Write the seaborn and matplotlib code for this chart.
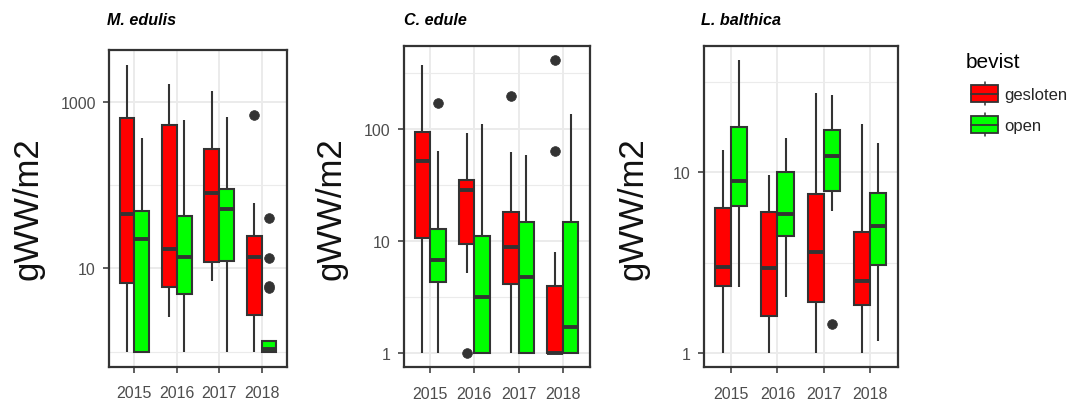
import matplotlib
matplotlib.use("Agg")
import matplotlib.pyplot as plt
import pandas as pd
import seaborn as sns
from matplotlib.patches import Rectangle, Patch
from matplotlib.lines import Line2D
from matplotlib.legend_handler import HandlerBase
from matplotlib.ticker import FixedLocator, FixedFormatter, NullFormatter

# ---------------------------------------------------------------- data
years = ["2015", "2016", "2017", "2018"]
states = ["gesloten", "open"]
state_colors = ["#FF0000", "#00FF00"]
species = ["M. edulis", "C. edule", "L. balthica"]

# box summaries in gWW/m2, ordered
# 2015 gesloten, 2015 open, 2016 gesloten, 2016 open, ..., 2018 open
medulis_low = [1, 1, 2.63, 1, 7.05, 1, 1, 1]
medulis_q1 = [6.7, 1, 5.9, 4.9, 12, 12.4, 2.75, 1]
medulis_med = [44.5, 22.3, 16.9, 13.6, 81, 51, 13.6, 1.07]
medulis_q3 = [643, 49, 520, 42.5, 268, 88.7, 24.5, 1.33]
medulis_high = [2750, 363, 1630, 603, 1355, 649, 61.4, 1.33]
medulis_out = [[], [], [], [], [], [], [700], [5.8, 6.1, 13.2, 39.8]]

cedule_low = [1, 1, 5.2, 1, 1, 1, 1, 1]
cedule_q1 = [10.6, 4.3, 9.5, 1, 4.1, 1, 1, 1]
cedule_med = [52, 6.7, 28.7, 3.18, 8.8, 4.8, 1, 1.69]
cedule_q3 = [94.7, 12.8, 35.3, 11, 18, 14.7, 3.94, 14.7]
cedule_high = [375, 63, 91.5, 111, 62, 59, 7.9, 136]
cedule_out = [[], [171], [1], [], [196], [], [63, 413], []]

lbalthica_low = [1, 2.31, 1, 2.05, 1, 6.14, 1, 1.16]
lbalthica_q1 = [2.34, 6.54, 1.61, 4.42, 1.92, 7.85, 1.84, 3.08]
lbalthica_med = [3.0, 9.0, 2.94, 5.88, 3.61, 12.3, 2.51, 5.07]
lbalthica_q3 = [6.35, 17.9, 6.0, 10, 7.59, 17.2, 4.7, 7.65]
lbalthica_high = [13.3, 42, 9.6, 15.5, 27.5, 26.8, 18.5, 14.5]
lbalthica_out = [[], [], [], [], [], [1.44], [], []]

# axis ranges and breaks per panel
y_limits = [(10 ** -0.179, 10 ** 3.624), (10 ** -0.125, 10 ** 2.744), (10 ** -0.0775, 10 ** 1.70)]
y_major = [[10, 1000], [1, 10, 100], [1, 10]]
y_major_labels = [["10", "1000"], ["1", "10", "100"], ["1", "10"]]
y_minor = [[1, 100], [10 ** 0.5, 10 ** 1.5, 10 ** 2.5], [10 ** 0.5, 10 ** 1.5]]

summaries = {
    "M. edulis": (medulis_low, medulis_q1, medulis_med, medulis_q3, medulis_high, medulis_out),
    "C. edule": (cedule_low, cedule_q1, cedule_med, cedule_q3, cedule_high, cedule_out),
    "L. balthica": (lbalthica_low, lbalthica_q1, lbalthica_med, lbalthica_q3, lbalthica_high, lbalthica_out),
}


def sample_from_summary(low, q1, med, q3, high, out, reps=20):
    """Observations whose quartiles, whisker ends and outliers equal the summary."""
    return [low] + [q1] * reps + [med] * reps + [q3] * reps + [high] + list(out)


rows = []
for sp in species:
    low, q1, med, q3, high, out = summaries[sp]
    k = 0
    for yr in years:
        for st in states:
            for v in sample_from_summary(low[k], q1[k], med[k], q3[k], high[k], out[k]):
                rows.append({"soort": sp, "jaar": yr, "bevist": st, "gWW": v})
            k += 1
df = pd.DataFrame(rows)

# ---------------------------------------------------------------- style
sns.set_style("white")
plt.rcParams["font.family"] = ["Liberation Sans", "DejaVu Sans"]

EDGE = "#333333"
GRID = "#EBEBEB"
W, H = 1072, 410

fig = plt.figure(figsize=(W / 100, H / 100), dpi=100)

# panel frames in pixels: left, right, top, bottom
frames = [(109, 287, 50.7, 367.5), (403.5, 589.5, 46.7, 368), (703.5, 897.7, 46.7, 368)]
title_x = [107, 403.5, 701]
ylabel_x = [28, 331, 633]

for i, sp in enumerate(species):
    l, r, t, b = frames[i]
    ax = fig.add_axes([l / W, 1 - b / H, (r - l) / W, (b - t) / H])
    sub = df[df["soort"] == sp]
    sns.boxplot(
        data=sub, x="jaar", y="gWW", hue="bevist",
        order=years, hue_order=states, palette=state_colors,
        saturation=1, width=0.7, gap=0, dodge=True,
        linewidth=1.5, linecolor=EDGE, log_scale=True, whis=1.5,
        showcaps=False,
        flierprops=dict(marker="o", markersize=7, markerfacecolor=EDGE,
                        markeredgecolor=EDGE, markeredgewidth=0.5),
        medianprops=dict(color=EDGE, linewidth=2.8),
        whiskerprops=dict(color=EDGE, linewidth=1.5),
        legend=False, ax=ax,
    )
    ax.set_xlim(-0.6, 3.6)
    ax.set_ylim(*y_limits[i])
    ax.yaxis.set_major_locator(FixedLocator(y_major[i]))
    ax.yaxis.set_major_formatter(FixedFormatter(y_major_labels[i]))
    ax.yaxis.set_minor_locator(FixedLocator(y_minor[i]))
    ax.yaxis.set_minor_formatter(NullFormatter())
    ax.set_axisbelow(True)
    ax.grid(which="major", color=GRID, linewidth=1.4)
    ax.grid(which="minor", axis="y", color=GRID, linewidth=0.8)
    ax.set_xlabel("")
    ax.set_ylabel("")
    for s in ax.spines.values():
        s.set_color(EDGE)
        s.set_linewidth(1.6)
        s.set_visible(True)
    ax.tick_params(which="major", length=4.5, width=1.1, color=EDGE,
                   labelcolor="#4D4D4D", labelsize=11.5, left=True, bottom=True)
    ax.tick_params(axis="y", which="major", pad=5)
    ax.tick_params(axis="x", which="major", pad=9)
    ax.tick_params(which="minor", length=0)

    fig.text(title_x[i] / W, 1 - 25 / H, sp, fontsize=11.6, fontweight="bold",
             fontstyle="italic", ha="left", va="baseline", color="black")
    fig.text(ylabel_x[i] / W, 1 - 209 / H, "gWW/m2", fontsize=25, rotation=90,
             ha="center", va="center", color="#111111")


# ---------------------------------------------------------------- legend
class BoxKey(HandlerBase):
    def create_artists(self, legend, orig_handle, xdescent, ydescent,
                       width, height, fontsize, trans):
        x0, y0 = -xdescent, -ydescent
        cx = x0 + width / 2
        stub = 0.2 * height
        whisker = Line2D([cx, cx], [y0 - stub, y0 + height + stub],
                         color=EDGE, linewidth=1.1, transform=trans)
        box = Rectangle((x0, y0), width, height,
                        facecolor=orig_handle.get_facecolor(), edgecolor=EDGE,
                        linewidth=1.3, transform=trans)
        median = Line2D([x0, x0 + width], [y0 + height / 2] * 2,
                        color=EDGE, linewidth=1.3, transform=trans)
        return [whisker, box, median]


fig.text(966 / W, 1 - 68.3 / H, "bevist", fontsize=15, ha="left",
         va="baseline", color="black")

handles = [Patch(facecolor=c, edgecolor=EDGE) for c in state_colors]
leg = fig.legend(
    handles, states, handler_map={Patch: BoxKey()}, fontsize=12,
    loc="upper left", bbox_to_anchor=(963 / W, 1 - 78 / H),
    frameon=False, borderpad=0, handlelength=1.6, handleheight=1.15,
    handletextpad=0.4, labelspacing=0.85,
)

fig.savefig("out.png", dpi=100)
